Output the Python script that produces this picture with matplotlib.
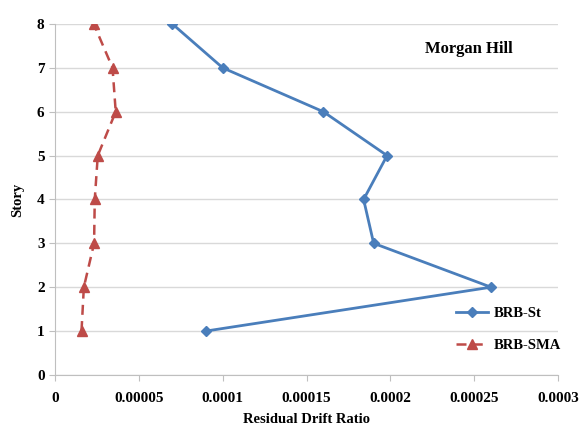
import numpy as np
import matplotlib.pyplot as plt

plt.rcParams['font.family'] = ['Liberation Serif', 'DejaVu Serif']
plt.rcParams['font.weight'] = 'bold'

stories = [1, 2, 3, 4, 5, 6, 7, 8]
brb_st = [0.00009, 0.00026, 0.00019, 0.000184, 0.000198, 0.00016, 0.0001, 0.00007]
brb_sma = [0.0000158, 0.0000172, 0.0000233, 0.0000237, 0.0000255, 0.0000362, 0.0000343, 0.0000231]
x_ticks = [0, 0.00005, 0.0001, 0.00015, 0.0002, 0.00025, 0.0003]
x_labels = ["0", "0.00005", "0.0001", "0.00015", "0.0002", "0.00025", "0.0003"]

fig = plt.figure(figsize=(5.79, 4.28), dpi=100)
ax = fig.add_axes([0.095, 0.124, 0.869, 0.82])

blue = "#4a7ebb"
red = "#be4b48"
grid_c = "#d9d9d9"

ax.plot(brb_st, stories, color=blue, lw=2, marker="D", ms=5, label="BRB-St", zorder=3)
ax.plot(brb_sma, stories, color=red, lw=1.8, ls=(0, (4, 2.5)), marker="^", ms=7.5, label="BRB-SMA", zorder=3)

ax.set_xlim(0, 0.0003)
ax.set_ylim(0, 8)
ax.set_xticks(x_ticks)
ax.set_xticklabels(x_labels)
ax.set_yticks(range(0, 9))
ax.grid(axis="y", color=grid_c, lw=1)
ax.set_axisbelow(True)
for s in ["top", "right"]:
    ax.spines[s].set_visible(False)
for s in ["left", "bottom"]:
    ax.spines[s].set_color("#bfbfbf")
ax.tick_params(axis="both", colors="#bfbfbf", labelcolor="black", labelsize=11, length=4)
ax.tick_params(axis="x", pad=8)

ax.set_xlabel("Residual Drift Ratio", fontsize=10.5, fontweight="bold", labelpad=6)
ax.set_ylabel("Story", fontsize=10.5, fontweight="bold", labelpad=9)

ax.text(0.000247, 7.43, "Morgan Hill", fontsize=12, fontweight="bold", ha="center", va="center")

leg = ax.legend(loc="center left", bbox_to_anchor=(0.77, 0.13), frameon=False,
                fontsize=10.5, handlelength=2.2, labelspacing=1.3, handletextpad=0.4)

fig.savefig("out.png", dpi=100)
